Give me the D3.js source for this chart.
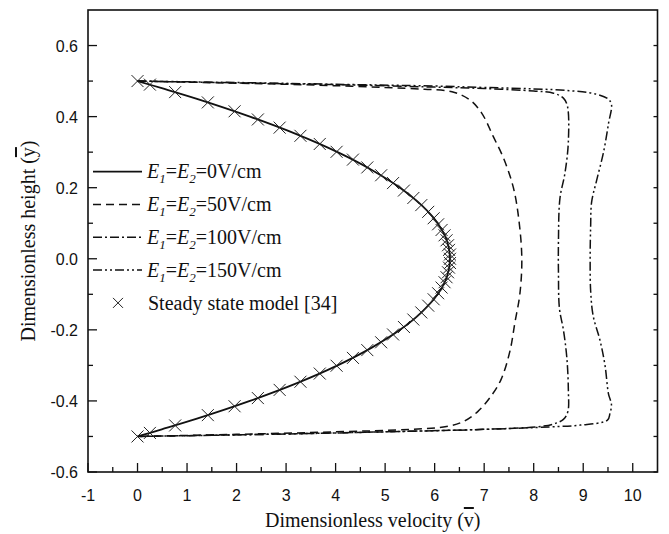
<!DOCTYPE html>
<html>
<head>
<meta charset="utf-8">
<script src="https://cdn.jsdelivr.net/npm/d3@7/dist/d3.min.js"></script>
<style>
  html, body { margin: 0; padding: 0; background: #fff; }
  svg { display: block; }
</style>
</head>
<body>
<div id="chart"></div>
<script>
// Axis ticks
const xMajorTicks = [-1, 0, 1, 2, 3, 4, 5, 6, 7, 8, 9, 10];
const yMajorTicks = [-0.6, -0.4, -0.2, 0.0, 0.2, 0.4, 0.6];
const yTickLabels = ['-0.6', '-0.4', '-0.2', '0.0', '0.2', '0.4', '0.6'];

// E1=E2=0V/cm (solid)
const e0Y = [0.5, 0.48, 0.45, 0.4, 0.35, 0.3, 0.25, 0.2, 0.15, 0.1, 0.05, 0,
  -0.05, -0.1, -0.15, -0.2, -0.25, -0.3, -0.35, -0.4, -0.45, -0.48, -0.5];
const e0V = [0, 0.49, 1.2, 2.27, 3.22, 4.04, 4.73, 5.3, 5.74, 6.06, 6.25, 6.31,
  6.25, 6.06, 5.74, 5.3, 4.73, 4.04, 3.22, 2.27, 1.2, 0.49, 0];

// E1=E2=50V/cm (dashed)
const e50Y = [0.5, 0.497, 0.494, 0.491, 0.487, 0.482, 0.477, 0.47, 0.447, 0.41, 0.345, 0.28, 0.2, 0.11, 0,
  -0.1, -0.18, -0.26, -0.34, -0.39, -0.43, -0.458, -0.472, -0.48, -0.487, -0.494, -0.5];
const e50V = [0, 1, 2, 3, 4, 5, 5.8, 6.35, 6.71, 6.95, 7.18, 7.4, 7.59, 7.7, 7.76,
  7.72, 7.62, 7.52, 7.34, 7.12, 6.87, 6.58, 6.24, 5.5, 4, 2, 0];

// E1=E2=100V/cm (dash-dot)
const e100Y = [0.5, 0.495, 0.49, 0.483, 0.479, 0.472, 0.466, 0.452, 0.43, 0.33, 0.24, 0.17, 0.05,
  -0.04, -0.14, -0.2, -0.28, -0.37, -0.43, -0.452, -0.465, -0.473, -0.48, -0.487, -0.493, -0.5];
const e100V = [0, 2, 4, 6, 7, 8, 8.4, 8.6, 8.68, 8.7, 8.63, 8.53, 8.5,
  8.5, 8.52, 8.6, 8.67, 8.7, 8.69, 8.6, 8.4, 8.06, 7, 5, 3, 0];

// E1=E2=150V/cm (dash-dot-dot)
const e150Y = [0.5, 0.496, 0.491, 0.486, 0.482, 0.478, 0.473, 0.463, 0.45, 0.435, 0.38, 0.3, 0.22, 0.16, 0.09, 0,
  -0.09, -0.16, -0.23, -0.3, -0.38, -0.41, -0.435, -0.454, -0.468, -0.473, -0.48, -0.487, -0.493, -0.5];
const e150V = [0, 2, 4, 6, 7, 8, 8.73, 9.27, 9.5, 9.57, 9.51, 9.41, 9.27, 9.17, 9.15, 9.14,
  9.15, 9.2, 9.34, 9.44, 9.51, 9.57, 9.54, 9.49, 8.94, 8.33, 7, 5, 3, 0];

// Steady state model [34] (x markers)
const steadyY = [0.5, 0.49, 0.469, 0.44, 0.415, 0.392, 0.369, 0.346, 0.323, 0.301, 0.279, 0.257, 0.235,
  0.213, 0.192, 0.171, 0.151, 0.132, 0.114, 0.097, 0.081, 0.066, 0.052, 0.038, 0.025, 0.012, 0,
  -0.012, -0.025, -0.038, -0.052, -0.066, -0.081, -0.097, -0.114, -0.132, -0.151, -0.171, -0.192,
  -0.213, -0.235, -0.257, -0.279, -0.301, -0.323, -0.346, -0.369, -0.392, -0.415, -0.44, -0.469, -0.49, -0.5];
const steadyV = [0, 0.25, 0.76, 1.42, 1.96, 2.43, 2.87, 3.29, 3.68, 4.02, 4.35, 4.64, 4.92,
  5.16, 5.38, 5.57, 5.73, 5.87, 5.98, 6.07, 6.14, 6.2, 6.24, 6.27, 6.29, 6.31, 6.31,
  6.31, 6.29, 6.27, 6.24, 6.2, 6.14, 6.07, 5.98, 5.87, 5.73, 5.57, 5.38,
  5.16, 4.92, 4.64, 4.35, 4.02, 3.68, 3.29, 2.87, 2.43, 1.96, 1.42, 0.76, 0.25, 0];

const series = [
  { label: '0V/cm', ys: e0Y, vs: e0V, dash: null, width: 1.8 },
  { label: '50V/cm', ys: e50Y, vs: e50V, dash: '8,5', width: 1.5 },
  { label: '100V/cm', ys: e100Y, vs: e100V, dash: '9,3,2,3', width: 1.5 },
  { label: '150V/cm', ys: e150Y, vs: e150V, dash: '9,3,2,3,2,3', width: 1.5 },
];

const W = 669, H = 534;
const margin = { top: 10, right: 11.5, bottom: 62, left: 88 };
const SANS = '"Liberation Sans", Arial, Helvetica, sans-serif';
const SERIF = '"Liberation Serif", "Times New Roman", Times, serif';

const svg = d3.select('#chart').append('svg')
  .attr('width', W).attr('height', H);

const x = d3.scaleLinear().domain([-1, 10.5]).range([margin.left, W - margin.right]);
const y = d3.scaleLinear().domain([-0.6, 0.7]).range([H - margin.bottom, margin.top]);

const x0 = x.range()[0], x1 = x.range()[1];
const yb = y.range()[0], yt = y.range()[1];

// Curves
const line = d3.line()
  .x((d) => x(d.v))
  .y((d) => y(d.y))
  .curve(d3.curveCatmullRom.alpha(0.5));

series.forEach((s) => {
  const pts = s.ys.map((yy, i) => ({ y: yy, v: s.vs[i] }));
  svg.append('path')
    .datum(pts)
    .attr('d', line)
    .attr('fill', 'none')
    .attr('stroke', '#111')
    .attr('stroke-width', s.width)
    .attr('stroke-dasharray', s.dash);
});

// Markers
const crossPath = (cx, cy, r) => `M${cx - r},${cy - r}L${cx + r},${cy + r}M${cx - r},${cy + r}L${cx + r},${cy - r}`;
svg.append('g')
  .selectAll('path')
  .data(steadyY.map((yy, i) => ({ y: yy, v: steadyV[i] })))
  .enter()
  .append('path')
  .attr('d', (d) => crossPath(x(d.v), y(d.y), 6))
  .attr('stroke', '#222')
  .attr('stroke-width', 1)
  .attr('fill', 'none');

// Frame
svg.append('rect')
  .attr('x', x0).attr('y', yt)
  .attr('width', x1 - x0).attr('height', yb - yt)
  .attr('fill', 'none')
  .attr('stroke', '#111')
  .attr('stroke-width', 1.6);

// Bottom axis (ticks inward)
const xMinor = d3.range(-0.5, 10.5, 1);
const axisG = svg.append('g').attr('stroke', '#111').attr('stroke-width', 1.3);
xMajorTicks.forEach((t) => {
  axisG.append('line').attr('x1', x(t)).attr('x2', x(t)).attr('y1', yb).attr('y2', yb - 9);
});
xMinor.forEach((t) => {
  axisG.append('line').attr('x1', x(t)).attr('x2', x(t)).attr('y1', yb).attr('y2', yb - 5);
});

// Left axis
const yMinor = [-0.5, -0.3, -0.1, 0.1, 0.3, 0.5];
yMajorTicks.forEach((t) => {
  axisG.append('line').attr('x1', x0).attr('x2', x0 + 9).attr('y1', y(t)).attr('y2', y(t));
});
yMinor.forEach((t) => {
  axisG.append('line').attr('x1', x0).attr('x2', x0 + 5).attr('y1', y(t)).attr('y2', y(t));
});
// Right axis small ticks
yMajorTicks.concat(yMinor).forEach((t) => {
  axisG.append('line').attr('x1', x1).attr('x2', x1 - 4).attr('y1', y(t)).attr('y2', y(t));
});

// Tick labels
svg.append('g')
  .selectAll('text')
  .data(xMajorTicks)
  .enter()
  .append('text')
  .attr('x', (d) => x(d))
  .attr('y', yb + 29)
  .attr('text-anchor', 'middle')
  .attr('font-family', SANS)
  .attr('font-size', 16)
  .attr('fill', '#111')
  .text((d) => d);

svg.append('g')
  .selectAll('text')
  .data(yMajorTicks)
  .enter()
  .append('text')
  .attr('x', x0 - 10)
  .attr('y', (d) => y(d) + 6)
  .attr('text-anchor', 'end')
  .attr('font-family', SANS)
  .attr('font-size', 16)
  .attr('fill', '#111')
  .text((d, i) => yTickLabels[i]);

// Axis titles
const xt = svg.append('text')
  .attr('x', (x0 + x1) / 2)
  .attr('y', 527)
  .attr('text-anchor', 'middle')
  .attr('font-family', SERIF)
  .attr('font-size', 20)
  .attr('fill', '#111');
xt.append('tspan').text('Dimensionless velocity (');
xt.append('tspan').style('text-decoration', 'overline').text('v');
xt.append('tspan').text(')');

const ytl = svg.append('text')
  .attr('transform', `translate(35,${(yt + yb) / 2}) rotate(-90)`)
  .attr('text-anchor', 'middle')
  .attr('font-family', SERIF)
  .attr('font-size', 20)
  .attr('fill', '#111');
ytl.append('tspan').text('Dimensionless height (');
ytl.append('tspan').style('text-decoration', 'overline').text('y');
ytl.append('tspan').text(')');

// Legend
const legendTop = 171.7;
const rowH = 32.8;
const legend = svg.append('g');
series.forEach((s, i) => {
  const ly = legendTop + i * rowH;
  legend.append('line')
    .attr('x1', 93).attr('x2', 142)
    .attr('y1', ly).attr('y2', ly)
    .attr('stroke', '#111')
    .attr('stroke-width', s.width)
    .attr('stroke-dasharray', s.dash);
  const t = legend.append('text')
    .attr('x', 147)
    .attr('y', ly + 6.6)
    .attr('font-family', SERIF)
    .attr('font-size', 20)
    .attr('fill', '#111');
  t.append('tspan').attr('font-style', 'italic').text('E');
  t.append('tspan').attr('font-style', 'italic').attr('font-size', 13).attr('dy', 5).text('1');
  t.append('tspan').attr('dy', -5).text('=');
  t.append('tspan').attr('font-style', 'italic').text('E');
  t.append('tspan').attr('font-style', 'italic').attr('font-size', 13).attr('dy', 5).text('2');
  t.append('tspan').attr('dy', -5).text('=' + s.label);
});
const my = legendTop + 4 * rowH;
legend.append('path')
  .attr('d', crossPath(118, my, 5))
  .attr('stroke', '#222')
  .attr('stroke-width', 1)
  .attr('fill', 'none');
legend.append('text')
  .attr('x', 148)
  .attr('y', my + 6.6)
  .attr('font-family', SERIF)
  .attr('font-size', 20)
  .attr('fill', '#111')
  .text('Steady state model [34]');
</script>
</body>
</html>
